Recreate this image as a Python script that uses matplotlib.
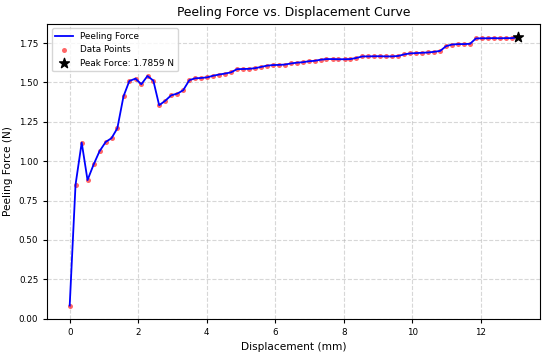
import matplotlib; matplotlib.use("Agg"); import matplotlib.pyplot as plt
import numpy as np

# displacement (mm) and peeling force (N)
displacement = [
    0.00, 0.17, 0.35, 0.52, 0.70, 0.87, 1.05, 1.22, 1.39, 1.57,
    1.74, 1.92, 2.09, 2.27, 2.44, 2.61, 2.79, 2.96, 3.14, 3.31,
    3.49, 3.66, 3.83, 4.01, 4.18, 4.36, 4.53, 4.71, 4.88, 5.05,
    5.23, 5.40, 5.58, 5.75, 5.93, 6.10, 6.27, 6.45, 6.62, 6.80,
    6.97, 7.15, 7.32, 7.49, 7.67, 7.84, 8.02, 8.19, 8.36, 8.54,
    8.71, 8.89, 9.06, 9.24, 9.41, 9.59, 9.76, 9.93, 10.11, 10.28,
    10.46, 10.63, 10.81, 10.98, 11.15, 11.33, 11.50, 11.68, 11.85, 12.03,
    12.20, 12.37, 12.55, 12.72, 12.90, 13.07,
]
force = [
    0.084, 0.850, 1.118, 0.880, 0.980, 1.063, 1.122, 1.146, 1.209, 1.412,
    1.509, 1.524, 1.488, 1.541, 1.511, 1.355, 1.384, 1.418, 1.429, 1.450,
    1.514, 1.526, 1.528, 1.532, 1.542, 1.550, 1.556, 1.564, 1.584, 1.585,
    1.586, 1.590, 1.598, 1.606, 1.610, 1.611, 1.613, 1.620, 1.625, 1.628,
    1.634, 1.637, 1.644, 1.648, 1.648, 1.647, 1.647, 1.648, 1.655, 1.665,
    1.665, 1.666, 1.666, 1.665, 1.665, 1.668, 1.678, 1.684, 1.686, 1.688,
    1.690, 1.694, 1.700, 1.730, 1.740, 1.743, 1.743, 1.745, 1.779, 1.780,
    1.780, 1.781, 1.780, 1.781, 1.781, 1.7859,
]

x = np.array(displacement)
y = np.array(force)
peak_i = int(np.argmax(y))

fig, ax = plt.subplots(figsize=(5.5, 3.52), dpi=100)
fig.subplots_adjust(left=0.086, right=0.982, top=0.932, bottom=0.094)
ax.plot(x, y, color="blue", linewidth=1.3, label="Peeling Force", zorder=3)
ax.scatter(x, y, color="red", s=13, alpha=0.6, linewidths=0, label="Data Points", zorder=2)
ax.scatter(x[peak_i], y[peak_i], color="black", marker="*", s=55,
           label=f"Peak Force: {y[peak_i]:.4f} N", zorder=4)

ax.set_title("Peeling Force vs. Displacement Curve", fontsize=8.9)
ax.set_xlabel("Displacement (mm)", fontsize=7.6)
ax.set_ylabel("Peeling Force (N)", fontsize=7.6)
ax.tick_params(labelsize=6.3, length=3)
ax.grid(True, linestyle="--", alpha=0.5)
ax.legend(fontsize=6.4, loc="upper left")

plt.savefig("out.png", dpi=100)
